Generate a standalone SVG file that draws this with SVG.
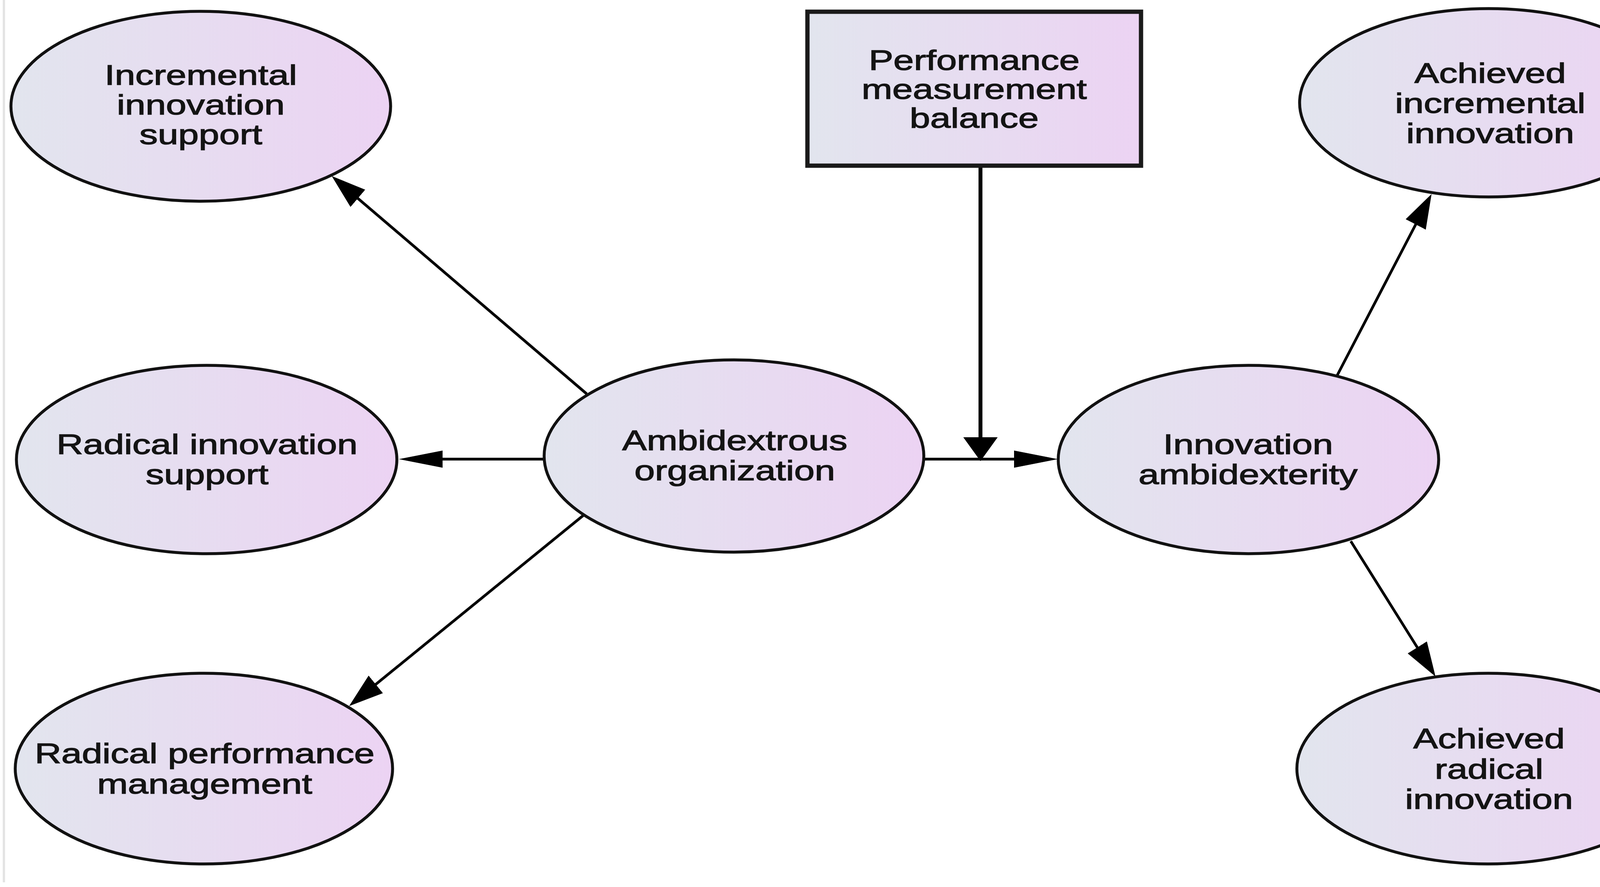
<svg xmlns="http://www.w3.org/2000/svg" width="4317" height="2270" viewBox="0 0 4317 2270">
<style>
.node{stroke:#111;stroke-width:7.5;fill:url(#g)}
.box{stroke:#1a1a1a;stroke-width:11;fill:url(#g)}
.t{font-family:"Liberation Sans",Arial,Helvetica,sans-serif;font-size:72px;fill:#141414;stroke:#141414;stroke-width:1.6;text-anchor:middle}
.c{stroke:#000;stroke-width:7;fill:none}
</style>
<defs>
<linearGradient id="g" x1="0" y1="0" x2="1" y2="0">
<stop offset="0" stop-color="#e2e5ee"/>
<stop offset="1" stop-color="#ecd3f3"/>
</linearGradient>
<marker id="aH" markerUnits="userSpaceOnUse" markerWidth="112" markerHeight="44" refX="82" refY="22" orient="auto"><path d="M0,0 L112,22 L0,44 z" fill="#000"/></marker>
<marker id="aV" markerUnits="userSpaceOnUse" markerWidth="61" markerHeight="88" refX="31" refY="44" orient="auto"><path d="M0,0 L61,44 L0,88 z" fill="#000"/></marker>
<marker id="aD" markerUnits="userSpaceOnUse" markerWidth="88" markerHeight="58" refX="58" refY="29" orient="auto"><path d="M0,0 L88,29 L0,58 z" fill="#000"/></marker>
</defs>
<rect x="0" y="0" width="4317" height="2270" fill="#fff"/>
<line x1="10" y1="0" x2="10" y2="2258" stroke="#e4e4e4" stroke-width="6"/>
<line x1="4305" y1="0" x2="4305" y2="2258" stroke="#f2f2f2" stroke-width="4"/>

<g id="connectors">
<line class="c" x1="1502" y1="1008" x2="872" y2="470" marker-end="url(#aD)"/>
<line class="c" x1="1394" y1="1175" x2="1051" y2="1175" marker-end="url(#aH)"/>
<line class="c" x1="1497" y1="1316" x2="917" y2="1788" marker-end="url(#aD)"/>
<line class="c" x1="2364" y1="1175" x2="2678" y2="1175" marker-end="url(#aH)"/>
<line class="c" style="stroke-width:10" x1="2510" y1="424" x2="2510" y2="1150" marker-end="url(#aV)"/>
<line class="c" x1="3423" y1="961" x2="3651" y2="523" marker-end="url(#aD)"/>
<line class="c" x1="3458" y1="1385" x2="3659" y2="1706" marker-end="url(#aD)"/>
</g>

<g id="incremental-innovation-support">
<ellipse class="node" cx="514" cy="272" rx="486" ry="243"/>
<text class="t" transform="translate(514,217) scale(1.31,1)"><tspan x="0" y="0">Incremental</tspan><tspan x="0" y="76">innovation</tspan><tspan x="0" y="152">support</tspan></text>
</g>
<g id="radical-innovation-support">
<ellipse class="node" cx="529" cy="1176" rx="487" ry="241"/>
<text class="t" transform="translate(530,1162) scale(1.31,1)"><tspan x="0" y="0">Radical innovation</tspan><tspan x="0" y="77">support</tspan></text>
</g>
<g id="radical-performance-management">
<ellipse class="node" cx="522" cy="1967" rx="483" ry="244"/>
<text class="t" transform="translate(524,1953) scale(1.31,1)"><tspan x="0" y="0">Radical performance</tspan><tspan x="0" y="78">management</tspan></text>
</g>
<g id="ambidextrous-organization">
<ellipse class="node" cx="1879" cy="1167" rx="486" ry="246"/>
<text class="t" transform="translate(1881,1152) scale(1.31,1)"><tspan x="0" y="0">Ambidextrous</tspan><tspan x="0" y="77">organization</tspan></text>
</g>
<g id="performance-measurement-balance">
<rect class="box" x="2067" y="30" width="854" height="394"/>
<text class="t" transform="translate(2494,179) scale(1.31,1)"><tspan x="0" y="0">Performance</tspan><tspan x="0" y="74">measurement</tspan><tspan x="0" y="148">balance</tspan></text>
</g>
<g id="innovation-ambidexterity">
<ellipse class="node" cx="3196" cy="1176" rx="487" ry="241"/>
<text class="t" transform="translate(3195,1162) scale(1.31,1)"><tspan x="0" y="0">Innovation</tspan><tspan x="0" y="77">ambidexterity</tspan></text>
</g>
<g id="achieved-incremental-innovation">
<ellipse class="node" cx="3811" cy="263" rx="484" ry="241"/>
<text class="t" transform="translate(3815,212) scale(1.31,1)"><tspan x="0" y="0">Achieved</tspan><tspan x="0" y="77">incremental</tspan><tspan x="0" y="154">innovation</tspan></text>
</g>
<g id="achieved-radical-innovation">
<ellipse class="node" cx="3809" cy="1967" rx="489" ry="244"/>
<text class="t" transform="translate(3812,1915) scale(1.31,1)"><tspan x="0" y="0">Achieved</tspan><tspan x="0" y="78">radical</tspan><tspan x="0" y="155">innovation</tspan></text>
</g>
</svg>
